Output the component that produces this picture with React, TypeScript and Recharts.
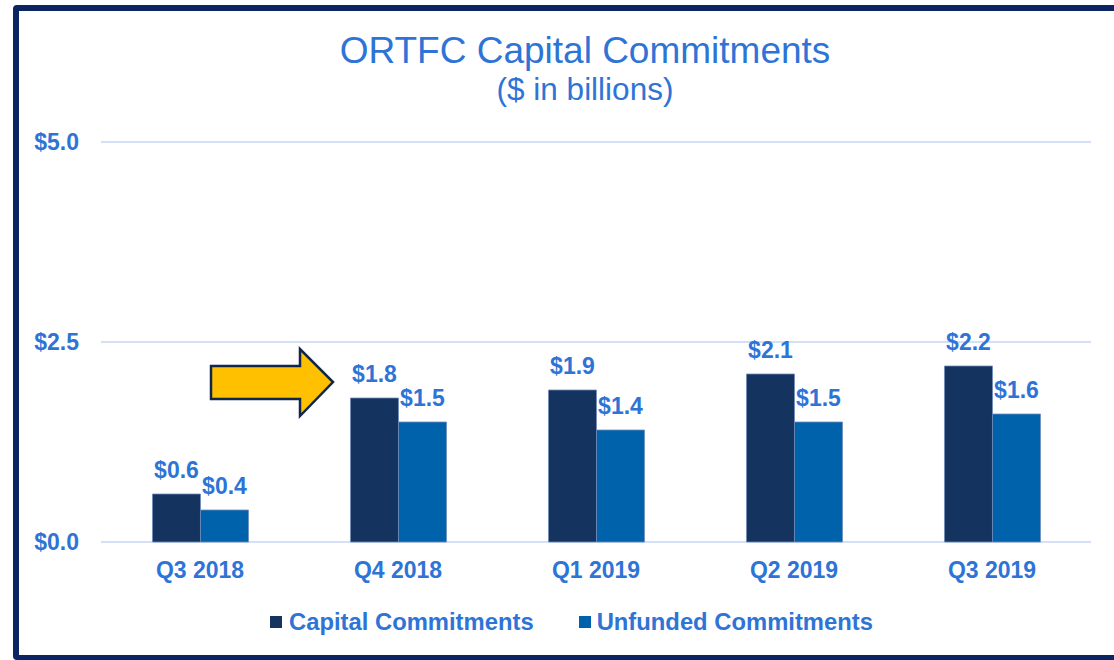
import React from "react";
import {
  BarChart,
  Bar,
  XAxis,
  YAxis,
  CartesianGrid,
  LabelList,
  ReferenceDot,
} from "recharts";

const quarters = ["Q3 2018", "Q4 2018", "Q1 2019", "Q2 2019", "Q3 2019"];
const capitalCommitments = [0.6, 1.8, 1.9, 2.1, 2.2];
const unfundedCommitments = [0.4, 1.5, 1.4, 1.5, 1.6];
const yTicks = [0, 2.5, 5];

const FONT = "Arial, 'Liberation Sans', sans-serif";
const TEXT_BLUE = "#2E74D6";
const CAPITAL_COLOR = "#15335F";
const UNFUNDED_COLOR = "#0062AA";
const GRID_COLOR = "#D3E0F6";
const FRAME_COLOR = "#0B2462";

const chartData = quarters.map((q, i) => ({
  quarter: q,
  capital: capitalCommitments[i],
  unfunded: unfundedCommitments[i],
}));

const TICK_STYLE = { fontSize: 23, fontWeight: 700, fill: TEXT_BLUE, fontFamily: FONT };
const LABEL_STYLE = { fontSize: 23, fontWeight: 700, fill: TEXT_BLUE, fontFamily: FONT };

const money = (v: number) => `$${v.toFixed(1)}`;

// yellow call-out arrow, tip sits at (cx - 65, cy)
const ArrowShape = (props: any) => {
  const { cx, cy } = props;
  if (cx == null || cy == null) return null;
  const tip = cx - 65;
  const headBase = tip - 33;
  const tail = tip - 122;
  const pts = [
    [tail, cy - 16],
    [headBase, cy - 16],
    [headBase, cy - 33],
    [tip, cy],
    [headBase, cy + 34],
    [headBase, cy + 17],
    [tail, cy + 17],
  ]
    .map((p) => p.join(","))
    .join(" ");
  return (
    <polygon
      points={pts}
      fill="#FFC000"
      stroke="#10264A"
      strokeWidth={2.5}
      strokeLinejoin="miter"
    />
  );
};

const ChartLegend = () => (
  <div
    style={{
      position: "absolute",
      left: 270,
      top: 610,
      display: "flex",
      alignItems: "center",
      height: 23,
      fontSize: 23.8,
      lineHeight: "23px",
      fontWeight: 700,
      color: TEXT_BLUE,
      whiteSpace: "nowrap",
    }}
  >
    <span style={{ width: 12, height: 12, background: CAPITAL_COLOR, marginRight: 7 }} />
    <span style={{ marginRight: 45 }}>Capital Commitments</span>
    <span style={{ width: 12, height: 12, background: UNFUNDED_COLOR, marginRight: 6 }} />
    <span>Unfunded Commitments</span>
  </div>
);

export default function App() {
  return (
    <div
      style={{
        position: "absolute",
        left: 0,
        top: 0,
        width: 1114,
        height: 660,
        overflow: "hidden",
        background: "#fff",
        fontFamily: FONT,
      }}
    >
      <div
        style={{
          position: "absolute",
          left: 13,
          top: 5,
          width: 1200,
          height: 655,
          boxSizing: "border-box",
          border: `6px solid ${FRAME_COLOR}`,
          borderBottomWidth: 5,
          borderRadius: 4,
        }}
      />
      <div
        style={{
          position: "absolute",
          left: 0,
          width: 1170,
          top: 32,
          textAlign: "center",
          fontSize: 37,
          lineHeight: "37px",
          color: TEXT_BLUE,
        }}
      >
        ORTFC Capital Commitments
      </div>
      <div
        style={{
          position: "absolute",
          left: 0,
          width: 1170,
          top: 74,
          textAlign: "center",
          fontSize: 31.5,
          lineHeight: "31px",
          color: TEXT_BLUE,
        }}
      >
        ($ in billions)
      </div>
      <div style={{ position: "absolute", left: 0, top: 0 }}>
        <BarChart
          width={1114}
          height={660}
          data={chartData}
          margin={{ top: 142, right: 23, left: 0, bottom: 0 }}
          barCategoryGap="26%"
          barGap={0}
        >
          <CartesianGrid
            horizontal
            vertical={false}
            stroke={GRID_COLOR}
            strokeWidth={2}
          />
          <YAxis
            domain={[0, 5]}
            ticks={yTicks}
            width={101}
            axisLine={false}
            tickLine={false}
            tickSize={0}
            tickMargin={22}
            tick={TICK_STYLE}
            tickFormatter={money}
          />
          <XAxis
            dataKey="quarter"
            height={118}
            axisLine={false}
            tickLine={false}
            tickSize={0}
            tickMargin={20}
            tick={TICK_STYLE}
          />
          <Bar
            dataKey="capital"
            name="Capital Commitments"
            fill={CAPITAL_COLOR}
            stroke="#6F8BB8"
            strokeWidth={0.8}
            isAnimationActive={false}
          >
            <LabelList
              dataKey="capital"
              position="top"
              offset={16}
              formatter={money}
              style={LABEL_STYLE}
            />
          </Bar>
          <Bar
            dataKey="unfunded"
            name="Unfunded Commitments"
            fill={UNFUNDED_COLOR}
            stroke="#6F8BB8"
            strokeWidth={0.8}
            isAnimationActive={false}
          >
            <LabelList
              dataKey="unfunded"
              position="top"
              offset={16}
              formatter={money}
              style={LABEL_STYLE}
            />
          </Bar>
          <ReferenceDot
            x="Q4 2018"
            y={2}
            ifOverflow="visible"
            shape={<ArrowShape />}
          />
        </BarChart>
      </div>
      <ChartLegend />
    </div>
  );
}
